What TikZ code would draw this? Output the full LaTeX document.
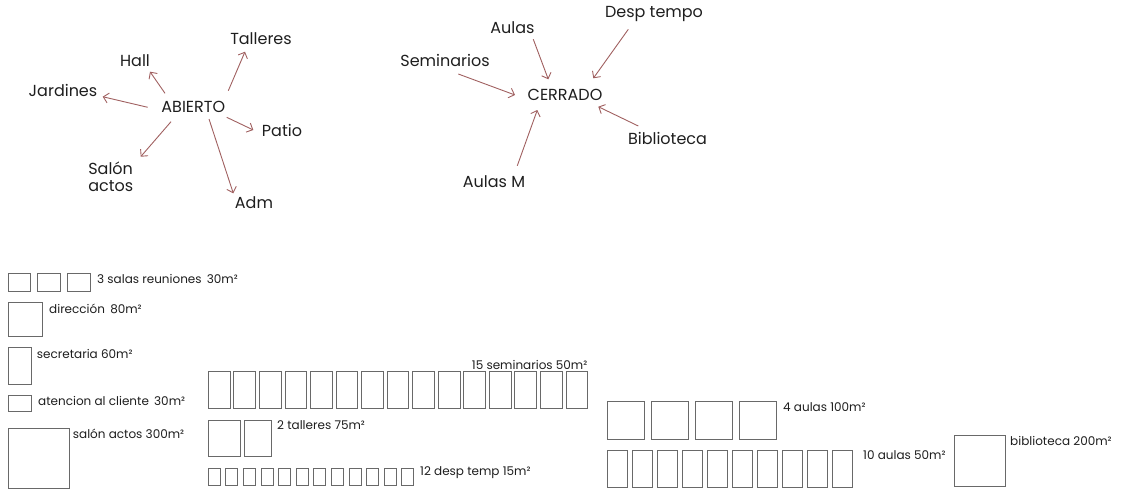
\documentclass[tikz,border=0pt]{standalone}
\usepackage{fontspec}
\setmainfont{Poppins}
\usetikzlibrary{arrows.meta}
\definecolor{arr}{RGB}{160,96,96}
\definecolor{boxc}{RGB}{105,105,105}
\definecolor{txt}{RGB}{30,30,30}
\begin{document}
\begin{tikzpicture}[x=1pt,y=-1pt,
  big/.style={inner sep=0pt,text=txt,font=\fontsize{16}{17}\selectfont},
  small/.style={inner sep=0pt,text=txt,font=\fontsize{12}{13}\selectfont},
  conn/.style={draw=arr,line width=0.9pt,-{Straight Barb[length=5pt,width=10pt]}},
  room/.style={draw=boxc,line width=0.9pt}]
\useasboundingbox (0,0) rectangle (1125,490);
% ABIERTO
\node[big] (ab) at (193.3,106.7) {ABIERTO};
\node[big] (hall) at (135,60.7) {Hall};
\node[big] (tal) at (261,38.3) {Talleres};
\node[big] (jar) at (63,90) {Jardines};
\node[big] (pat) at (282,130) {Patio};
\node[big,align=left] (sal) at (110.8,176.7) {Salón\\actos};
\node[big] (adm) at (254,202.3) {Adm};
\coordinate (s1) at (165,93.3); \coordinate (t1) at (150,71.7);
\coordinate (s2) at (228.3,90.7); \coordinate (t2) at (245,51.7);
\coordinate (s3) at (147.7,107.3); \coordinate (t3) at (102.7,96.7);
\coordinate (s4) at (226.7,117.3); \coordinate (t4) at (253.3,130);
\coordinate (s5) at (171,121.7); \coordinate (t5) at (140.7,156.7);
\coordinate (s6) at (209,119); \coordinate (t6) at (233.3,193.3);
\draw[conn] (s1) -- (t1);
\draw[conn] (s2) -- (t2);
\draw[conn] (s3) -- (t3);
\draw[conn] (s4) -- (t4);
\draw[conn] (s5) -- (t5);
\draw[conn] (s6) -- (t6);
% CERRADO
\node[big] (ce) at (565,95) {CERRADO};
\node[big] (au) at (512.5,27.3) {Aulas};
\node[big] (de) at (654,14) {Desp tempo};
\node[big] (se) at (445,60) {Seminarios};
\node[big] (bi) at (667.5,138.3) {Biblioteca};
\node[big] (am) at (494,181.7) {Aulas M};
\coordinate (u1) at (533.3,39.3); \coordinate (v1) at (548.3,79.3);
\coordinate (u2) at (628.3,29.3); \coordinate (v2) at (593.3,78.3);
\coordinate (u3) at (458.3,74); \coordinate (v3) at (515,95);
\coordinate (u4) at (638.3,126); \coordinate (v4) at (598.3,106.7);
\coordinate (u5) at (517.3,165.7); \coordinate (v5) at (537.3,110);
\draw[conn] (u1) -- (v1);
\draw[conn] (u2) -- (v2);
\draw[conn] (u3) -- (v3);
\draw[conn] (u4) -- (v4);
\draw[conn] (u5) -- (v5);
% rooms left column
\foreach \x in {8.3,37.7,67.7} \draw[room] (\x,273.3) rectangle ++(22.5,18.4);
\node[small,anchor=west] (l1) at (97,279) {3 salas reuniones\, 30m²};
\draw[room] (8.3,302.7) rectangle (42.3,336);
\node[small,anchor=west] (l2) at (49,309) {dirección\, 80m²};
\draw[room] (8.3,347.3) rectangle (31.7,384);
\node[small,anchor=west] (l3) at (36.7,353.5) {secretaria 60m²};
\draw[room] (8.3,395) rectangle (31.7,411.7);
\node[small,anchor=west] (l4) at (38,401) {atencion al cliente\, 30m²};
\draw[room] (8.3,428.3) rectangle (69.3,488.3);
\node[small,anchor=west] (l5) at (72.7,433.5) {salón actos 300m²};
% seminarios
\foreach \i in {0,...,14} \draw[room] ({208.3+\i*25.55},371.7) rectangle ++(21.7,36.6);
\node[small,anchor=east] (l6) at (587.5,365) {15 seminarios 50m²};
% talleres
\draw[room] (208.3,420) rectangle (240,456.7);
\draw[room] (244.3,420) rectangle (271.7,456.7);
\node[small,anchor=west] (l7) at (277,425.5) {2 talleres 75m²};
% desp
\foreach \i in {0,...,11} \draw[room] ({208.3+\i*17.6},468.3) rectangle ++(12,16.7);
\node[small,anchor=west] (l8) at (420,472.5) {12 desp temp 15m²};
% aulas 100
\foreach \i in {0,...,3} \draw[room] ({607.3+\i*43.9},401.7) rectangle ++(37,37.6);
\node[small,anchor=west] (l9) at (783,407) {4 aulas 100m²};
% aulas 50
\foreach \i in {0,...,9} \draw[room] ({607.3+\i*25},450) rectangle ++(20.5,37.3);
\node[small,anchor=west] (l10) at (863,455.5) {10 aulas 50m²};
% biblioteca
\draw[room] (954,435.7) rectangle (1005,486.7);
\node[small,anchor=west] (l11) at (1010,441) {biblioteca 200m²};
\end{tikzpicture}
\end{document}
